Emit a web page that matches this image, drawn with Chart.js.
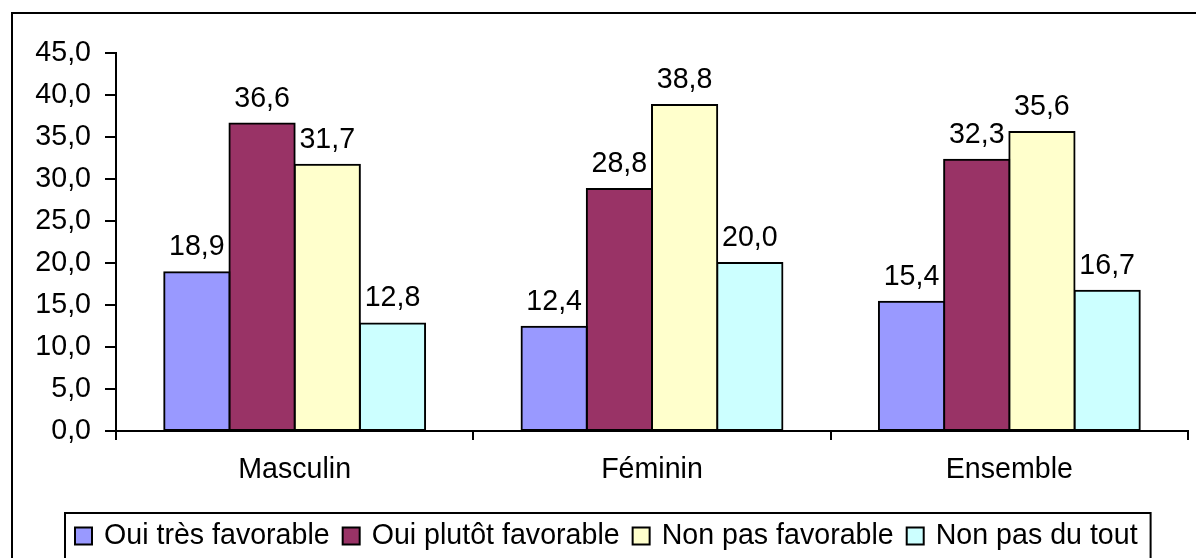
<!DOCTYPE html>
<html>
<head>
<meta charset="utf-8">
<script src="https://cdn.jsdelivr.net/npm/chart.js@4"></script>
<style>
  html, body { margin: 0; padding: 0; background: #fff; }
  canvas { display: block; }
</style>
</head>
<body>
<canvas id="avis" width="1196" height="558"></canvas>
<script>
const categories = ["Masculin", "Féminin", "Ensemble"];
const seriesNames = ["Oui très favorable", "Oui plutôt favorable", "Non pas favorable", "Non pas du tout"];
const ouiTresFavorable = [18.9, 12.4, 15.4];
const ouiPlutotFavorable = [36.6, 28.8, 32.3];
const nonPasFavorable = [31.7, 38.8, 35.6];
const nonPasDuTout = [12.8, 20.0, 16.7];
const yMax = 45;
const yStep = 5;

const colors = ["#9999FF", "#993366", "#FFFFCC", "#CCFFFF"];
const FONT = '"Liberation Sans", Arial, sans-serif';
const FONT_SIZE = 28.6;
const fmt = v => v.toFixed(1).replace(".", ",");

// white page and outer frame
const framePlugin = {
	id: "frame",
	beforeDraw(chart) {
		const ctx = chart.ctx;
		ctx.save();
		ctx.fillStyle = "#fff";
		ctx.fillRect(0, 0, chart.width, chart.height);
		ctx.strokeStyle = "#000";
		ctx.lineWidth = 2;
		ctx.strokeRect(12, 13, chart.width + 20, chart.height + 20);
		ctx.restore();
	}
};

// value printed above every bar
const valueLabels = {
	id: "valueLabels",
	afterDatasetsDraw(chart) {
		const ctx = chart.ctx;
		ctx.save();
		ctx.font = FONT_SIZE + "px " + FONT;
		ctx.fillStyle = "#000";
		ctx.textAlign = "center";
		ctx.textBaseline = "alphabetic";
		chart.data.datasets.forEach((ds, i) => {
			chart.getDatasetMeta(i).data.forEach((bar, j) => {
				ctx.fillText(fmt(ds.data[j]), bar.x, bar.y - 17);
			});
		});
		ctx.restore();
	}
};

// legend row with a box around it, along the bottom
const bottomLegend = {
	id: "bottomLegend",
	afterDraw(chart) {
		const ctx = chart.ctx;
		ctx.save();
		ctx.font = FONT_SIZE + "px " + FONT;
		ctx.textBaseline = "middle";
		const cy = 536;
		let x = 75;
		let right = x;
		chart.data.datasets.forEach(ds => {
			ctx.fillStyle = ds.backgroundColor;
			ctx.fillRect(x, cy - 8.5, 17, 17);
			ctx.strokeStyle = "#000";
			ctx.lineWidth = 2;
			ctx.strokeRect(x, cy - 8.5, 17, 17);
			ctx.fillStyle = "#000";
			ctx.fillText(ds.label, x + 29, cy);
			right = x + 29 + ctx.measureText(ds.label).width;
			x = right + 13;
		});
		ctx.lineWidth = 2;
		ctx.strokeRect(65, 513, right + 13 - 65, 80);
		ctx.restore();
	}
};

const seriesData = [ouiTresFavorable, ouiPlutotFavorable, nonPasFavorable, nonPasDuTout];

new Chart(document.getElementById("avis"), {
	type: "bar",
	data: {
		labels: categories,
		datasets: seriesNames.map((name, i) => ({
			label: name,
			data: seriesData[i],
			backgroundColor: colors[i],
			borderColor: "#000",
			borderWidth: 2,
			borderSkipped: false,
			inflateAmount: 1,
			categoryPercentage: 0.73,
			barPercentage: 1
		}))
	},
	options: {
		responsive: false,
		animation: false,
		layout: { padding: { left: 0, right: 8, top: 53, bottom: 52 } },
		scales: {
			x: {
				offset: true,
				grid: { display: true, offset: true, drawOnChartArea: false, tickLength: 9, color: "#000", lineWidth: 2 },
				border: { display: true, color: "#000", width: 2 },
				ticks: { color: "#000", font: { family: FONT, size: FONT_SIZE }, padding: 13 },
				afterFit(scale) { scale.height = 75; }
			},
			y: {
				min: 0,
				max: yMax,
				grid: { display: true, drawOnChartArea: false, tickLength: 11, color: "#000", lineWidth: 2 },
				border: { display: true, color: "#000", width: 2 },
				ticks: { stepSize: yStep, color: "#000", font: { family: FONT, size: FONT_SIZE }, padding: 14, callback: v => fmt(v) },
				afterFit(scale) { scale.width = 116; }
			}
		},
		plugins: {
			legend: { display: false },
			tooltip: { enabled: false }
		}
	},
	plugins: [framePlugin, valueLabels, bottomLegend]
});
</script>
</body>
</html>
